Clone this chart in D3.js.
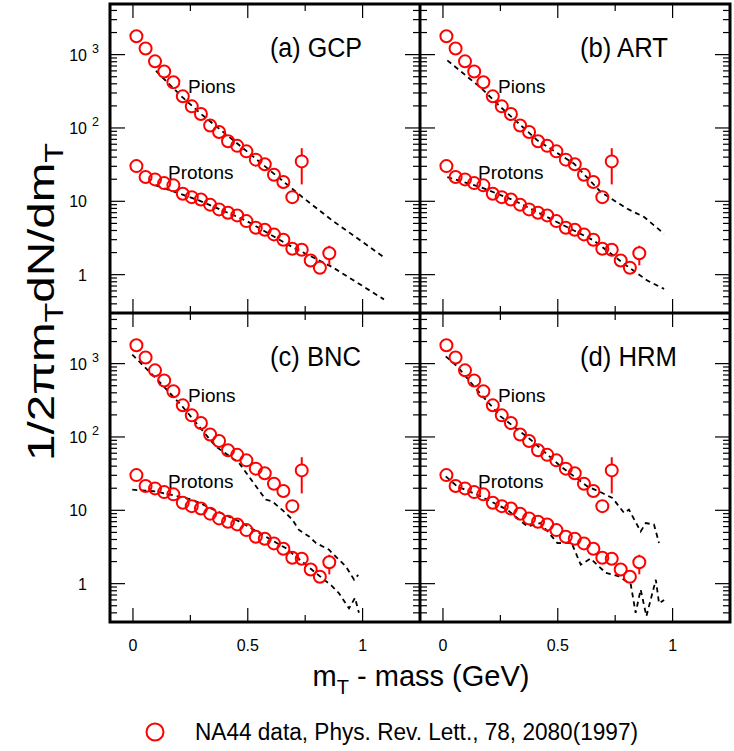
<!DOCTYPE html>
<head>
	<meta charset="UTF-8">
	<script src="https://d3js.org/d3.v7.min.js"></script>
	<title>NA44 mT spectra</title>
<style>
	body{
		margin: 0;
		background-color: #fff;
	}
	text{
		font-family: "Liberation Sans", Arial, sans-serif;
		fill: #000;
	}
</style>
</head>

<body>
	<svg width=734 height=751></svg>
</body>

<script>
	// NA44 data (same in every panel)
	var pionMt = [0.015, 0.055, 0.096, 0.136, 0.176, 0.217, 0.256, 0.296, 0.336, 0.375, 0.414, 0.454, 0.494, 0.535, 0.574, 0.614, 0.655, 0.694, 0.735];
	var pionYield = [1780, 1210, 810, 590, 420, 270, 197, 155, 108, 88, 66, 57, 48, 37, 32, 23, 18.3, 11.4, 35];
	var pionErrBars = [{x: 0.735, lo: 17, hi: 53}];

	var protonMt = [0.015, 0.055, 0.096, 0.136, 0.176, 0.217, 0.256, 0.296, 0.336, 0.375, 0.414, 0.454, 0.494, 0.535, 0.574, 0.614, 0.655, 0.694, 0.735, 0.774, 0.814, 0.855];
	var protonYield = [30.2, 21.4, 19.9, 17.7, 16.5, 12.7, 11.4, 10.6, 9.0, 7.76, 6.99, 6.42, 5.37, 4.37, 4.1, 3.54, 2.99, 2.26, 2.19, 1.56, 1.24, 1.96];
	var protonErrBars = [{x: 0.855, lo: 1.34, hi: 2.48}];

	// Model curves
	var gcpPionX = [0.10, 0.215, 0.30, 0.491, 0.658, 0.738, 0.868, 1.093];
	var gcpPionY = [600, 263, 152, 49.4, 18.3, 11.4, 5.48, 1.73];
	var gcpProtonX = [0.099, 0.287, 0.491, 0.694, 0.868, 1.093];
	var gcpProtonY = [16.5, 10.3, 5.48, 2.38, 1.27, 0.46];

	var artPionX = [0.019, 0.164, 0.251, 0.411, 0.571, 0.687, 0.803, 0.876, 0.963];
	var artPionY = [836, 355, 193, 67.8, 32.6, 13.4, 7.9, 6.1, 3.61];
	var artProtonX = [0.019, 0.164, 0.309, 0.483, 0.657, 0.788, 0.89, 0.963];
	var artProtonY = [21.4, 15.6, 10.3, 5.48, 2.92, 1.41, 0.83, 0.64];

	var bncPionX = [-0.003, 0.113, 0.215, 0.36, 0.462, 0.578, 0.607, 0.665, 0.694, 0.723, 0.767, 0.796, 0.854, 0.868, 0.927, 0.963, 0.981];
	var bncPionY = [1327, 574, 261, 74.5, 44.2, 14, 13.2, 9.2, 7.45, 5.4, 4.4, 3.6, 2.9, 2.6, 1.72, 1.13, 1.32];
	var bncProtonX = [-0.003, 0.099, 0.258, 0.462, 0.665, 0.796, 0.868, 0.897, 0.941, 0.967, 0.984];
	var bncProtonY = [19.1, 18.1, 14, 7.06, 3.06, 1.4, 0.92, 0.74, 0.46, 0.64, 0.4];

	var hrmPionX = [0.012, 0.062, 0.135, 0.251, 0.382, 0.513, 0.629, 0.694, 0.738, 0.789, 0.81, 0.861, 0.883, 0.919, 0.941];
	var hrmPionY = [1258, 919, 490, 191, 91.8, 39.7, 21.2, 17.2, 14.7, 9.2, 10.2, 5.15, 6.7, 6.4, 3.58];
	var hrmProtonX = [0.012, 0.062, 0.164, 0.28, 0.367, 0.425, 0.498, 0.56, 0.6, 0.643, 0.709, 0.767, 0.818, 0.839, 0.861, 0.886, 0.927, 0.941, 0.963];
	var hrmProtonY = [29, 21.2, 15.5, 10.2, 6.04, 6.71, 3.58, 3.6, 1.81, 2.2, 1.4, 1.26, 0.97, 0.4, 0.83, 0.36, 1.13, 0.54, 0.6];

	var panelTitles = ["(a) GCP", "(b) ART", "(c) BNC", "(d) HRM"];
	var xTickLabels = ["0", "0.5", "1"];
	var yTickLabels = [{base: "10", exp: "3"}, {base: "10", exp: "2"}, {base: "10", exp: ""}, {base: "1", exp: ""}];

	function zip(xs, ys){
		return xs.map(function(x, i){ return {x: x, y: ys[i]}; });
	}

	var panels = [
		{title: panelTitles[0], col: 0, row: 0, pion: zip(gcpPionX, gcpPionY), proton: zip(gcpProtonX, gcpProtonY), titleLen: 92},
		{title: panelTitles[1], col: 1, row: 0, pion: zip(artPionX, artPionY), proton: zip(artProtonX, artProtonY), titleLen: 88},
		{title: panelTitles[2], col: 0, row: 1, pion: zip(bncPionX, bncPionY), proton: zip(bncProtonX, bncProtonY), titleLen: 91},
		{title: panelTitles[3], col: 1, row: 1, pion: zip(hrmPionX, hrmPionY), proton: zip(hrmProtonX, hrmProtonY), titleLen: 97}
	];

	// Layout
	var frameLeft = 110, frameTop = 4, panelW = 310, panelH = 309;
	var red = "rgb(255,0,0)";
	var svg = d3.select("svg");

	var pionPts = zip(pionMt, pionYield);
	var protonPts = zip(protonMt, protonYield);

	// Tick values
	var yMajor = [1, 10, 100, 1000];
	var yMinor = [];
	for(var d = -1; d <= 3; d++){
		for(var k = 2; k <= 9; k++){
			var v = k * Math.pow(10, d);
			if(v > 0.3 && v < 4900) yMinor.push(v);
		}
	}
	var xMajor = [0, 0.5, 1];
	var xMinor = [0.25, 0.75];

	var line = d3.line();

	panels.forEach(function(p){
		var x0 = frameLeft + p.col * panelW;
		var y0 = frameTop + p.row * panelH;

		var x = d3.scaleLinear().domain([-0.1, 1.25]).range([x0, x0 + panelW]);
		var y = d3.scaleLog().domain([0.3, 4900]).range([y0 + panelH, y0]);

		var g = svg.append("g");

		// clip for curves
		var clipId = "clip" + p.col + p.row;
		svg.append("clipPath").attr("id", clipId)
			.append("rect")
			.attr("x", x0).attr("y", y0)
			.attr("width", panelW).attr("height", panelH);

		// Y ticks, both sides
		[[yMajor, 15], [yMinor, 7]].forEach(function(set){
			set[0].forEach(function(v){
				g.append("line")
					.attr("x1", x0).attr("x2", x0 + set[1])
					.attr("y1", y(v)).attr("y2", y(v))
					.attr("stroke", "#000").attr("stroke-width", 1.2);
				g.append("line")
					.attr("x1", x0 + panelW).attr("x2", x0 + panelW - set[1])
					.attr("y1", y(v)).attr("y2", y(v))
					.attr("stroke", "#000").attr("stroke-width", 1.2);
			});
		});

		// X ticks, top and bottom
		[[xMajor, 14], [xMinor, 7]].forEach(function(set){
			set[0].forEach(function(v){
				g.append("line")
					.attr("x1", x(v)).attr("x2", x(v))
					.attr("y1", y0).attr("y2", y0 + set[1])
					.attr("stroke", "#000").attr("stroke-width", 1.2);
				g.append("line")
					.attr("x1", x(v)).attr("x2", x(v))
					.attr("y1", y0 + panelH).attr("y2", y0 + panelH - set[1])
					.attr("stroke", "#000").attr("stroke-width", 1.2);
			});
		});

		// Model curves (dashed)
		line.x(function(d){ return x(d.x); }).y(function(d){ return y(d.y); });
		[p.pion, p.proton].forEach(function(c){
			g.append("path")
				.attr("d", line(c))
				.attr("fill", "none")
				.attr("stroke", "#000")
				.attr("stroke-width", 1.8)
				.attr("stroke-dasharray", "5,4")
				.attr("clip-path", "url(#" + clipId + ")");
		});

		// Error bars (skip the inside of the marker)
		var r = 6;
		[[pionErrBars, pionPts], [protonErrBars, protonPts]].forEach(function(set){
			set[0].forEach(function(e){
				var pt = set[1].filter(function(d){ return d.x == e.x; })[0];
				var cy = y(pt.y);
				g.append("line")
					.attr("x1", x(e.x)).attr("x2", x(e.x))
					.attr("y1", y(e.hi)).attr("y2", cy - r)
					.attr("stroke", red).attr("stroke-width", 2);
				g.append("line")
					.attr("x1", x(e.x)).attr("x2", x(e.x))
					.attr("y1", cy + r).attr("y2", y(e.lo))
					.attr("stroke", red).attr("stroke-width", 2);
			});
		});

		// Data markers
		g.selectAll("circle.pt")
			.data(pionPts.concat(protonPts)).enter()
			.append("circle")
			.attr("cx", function(d){ return x(d.x); })
			.attr("cy", function(d){ return y(d.y); })
			.attr("r", r)
			.attr("fill", "none")
			.attr("stroke", red)
			.attr("stroke-width", 2);

		// Panel labels
		g.append("text")
			.attr("x", x0 + 160).attr("y", y0 + 53)
			.attr("font-size", 27)
			.attr("textLength", p.titleLen)
			.attr("lengthAdjust", "spacingAndGlyphs")
			.text(p.title);
		g.append("text")
			.attr("x", x0 + 78).attr("y", y0 + 89)
			.attr("font-size", 19)
			.text("Pions");
		g.append("text")
			.attr("x", x0 + 58).attr("y", y0 + 175)
			.attr("font-size", 19)
			.text("Protons");

		// Y tick labels on left panels
		if(p.col == 0){
			yMajor.slice().reverse().forEach(function(v, i){
				g.append("text")
					.attr("x", 87).attr("y", y(v) + 6)
					.attr("font-size", 16)
					.attr("text-anchor", "end")
					.text(yTickLabels[i].base);
				if(yTickLabels[i].exp != ""){
					g.append("text")
						.attr("x", 92).attr("y", y(v) - 2)
						.attr("font-size", 12.5)
						.text(yTickLabels[i].exp);
				}
			});
		}

		// X tick labels on bottom panels
		if(p.row == 1){
			xMajor.forEach(function(v, i){
				g.append("text")
					.attr("x", x(v)).attr("y", y0 + panelH + 29)
					.attr("font-size", 16)
					.attr("text-anchor", "middle")
					.text(xTickLabels[i]);
			});
		}
	});

	// Frame and dividers
	var frame = svg.append("g")
					.attr("fill", "none")
					.attr("stroke", "#000")
					.attr("stroke-width", 3);
	frame.append("rect")
		.attr("x", frameLeft).attr("y", frameTop)
		.attr("width", 2 * panelW).attr("height", 2 * panelH);
	frame.append("line")
		.attr("x1", frameLeft + panelW).attr("x2", frameLeft + panelW)
		.attr("y1", frameTop).attr("y2", frameTop + 2 * panelH);
	frame.append("line")
		.attr("x1", frameLeft).attr("x2", frameLeft + 2 * panelW)
		.attr("y1", frameTop + panelH).attr("y2", frameTop + panelH);

	// Axis titles
	var xt = svg.append("text")
		.attr("x", 421).attr("y", 686)
		.attr("font-size", 29)
		.attr("text-anchor", "middle");
	xt.append("tspan").text("m");
	xt.append("tspan").attr("font-size", 20).attr("dy", 8).text("T");
	xt.append("tspan").attr("dy", -8).text(" - mass (GeV)");

	var yt = svg.append("text")
		.attr("transform", "translate(54,302) rotate(-90)")
		.attr("font-size", 37)
		.attr("text-anchor", "middle")
		.attr("textLength", 318)
		.attr("lengthAdjust", "spacingAndGlyphs");
	yt.append("tspan").text("1/2\u03C0m");
	yt.append("tspan").attr("font-size", 25).attr("dy", 9).text("T");
	yt.append("tspan").attr("dy", -9).text("dN/dm");
	yt.append("tspan").attr("font-size", 25).attr("dy", 9).text("T");

	// Legend
	svg.append("circle")
		.attr("cx", 155).attr("cy", 732)
		.attr("r", 8.5)
		.attr("fill", "none")
		.attr("stroke", red)
		.attr("stroke-width", 2);
	svg.append("text")
		.attr("x", 195).attr("y", 740)
		.attr("font-size", 23)
		.attr("textLength", 443)
		.attr("lengthAdjust", "spacingAndGlyphs")
		.text("NA44 data, Phys. Rev. Lett., 78, 2080(1997)");
</script>
